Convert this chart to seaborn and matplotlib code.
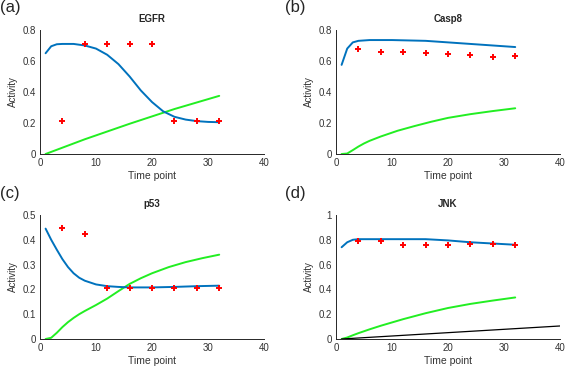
import numpy as np
import pandas as pd
import matplotlib
matplotlib.use('Agg')
import matplotlib.pyplot as plt
import seaborn as sns

# Panel data
panels = ['EGFR', 'Casp8', 'p53', 'JNK']
letters = ['(a)', '(b)', '(c)', '(d)']
ylims = [(0, 0.8), (0, 0.8), (0, 0.5), (0, 1)]
yticks = [[0, 0.2, 0.4, 0.6, 0.8], [0, 0.2, 0.4, 0.6, 0.8],
          [0, 0.1, 0.2, 0.3, 0.4, 0.5], [0, 0.2, 0.4, 0.6, 0.8, 1]]

# measured points (red markers)
t_meas = [4, 8, 12, 16, 20, 24, 28, 32]
egfr_meas = [0.21, 0.71, 0.71, 0.71, 0.71, 0.21, 0.21, 0.21]
casp8_meas = [0.68, 0.66, 0.655, 0.65, 0.645, 0.64, 0.625, 0.633]
p53_meas = [0.447, 0.422, 0.206, 0.205, 0.206, 0.205, 0.205, 0.205]
jnk_meas = [0.79, 0.79, 0.76, 0.755, 0.755, 0.765, 0.77, 0.755]

# simulated trajectories (blue)
egfr_t = [1, 2, 3, 4, 6, 8, 10, 12, 14, 16, 18, 20, 22, 24, 26, 28, 30, 32]
egfr_sim = [0.65, 0.695, 0.708, 0.71, 0.71, 0.70, 0.68, 0.64, 0.58, 0.50,
            0.41, 0.335, 0.275, 0.24, 0.222, 0.212, 0.207, 0.205]
casp8_t = [1, 2, 3, 4, 6, 10, 16, 20, 24, 28, 32]
casp8_sim = [0.575, 0.68, 0.72, 0.73, 0.735, 0.735, 0.73, 0.72, 0.71, 0.70, 0.69]
p53_t = [1, 2, 3, 4, 5, 6, 7, 8, 10, 12, 14, 16, 20, 24, 28, 32]
p53_sim = [0.445, 0.40, 0.36, 0.322, 0.29, 0.265, 0.247, 0.235, 0.22, 0.213,
           0.21, 0.208, 0.208, 0.21, 0.213, 0.215]
jnk_t = [1, 2, 3, 4, 8, 12, 16, 20, 24, 28, 32]
jnk_sim = [0.74, 0.78, 0.80, 0.805, 0.805, 0.805, 0.805, 0.795, 0.78, 0.77, 0.76]

# green curves
egfr_gt = [1, 8, 16, 24, 32]
egfr_green = [0.0, 0.095, 0.195, 0.29, 0.375]
casp8_gt = [1, 2, 3, 4, 5, 6, 8, 11, 14, 17, 20, 24, 28, 32]
casp8_green = [0.0, 0.003, 0.025, 0.048, 0.068, 0.085, 0.113, 0.15, 0.18,
               0.208, 0.233, 0.257, 0.277, 0.295]
p53_gt = [1, 2, 3, 4, 5, 6, 7, 8, 10, 12, 14, 16, 18, 20, 23, 26, 29, 32]
p53_green = [0.0, 0.005, 0.025, 0.048, 0.068, 0.085, 0.1, 0.113, 0.137, 0.163,
             0.193, 0.222, 0.245, 0.265, 0.29, 0.31, 0.326, 0.34]
jnk_gt = [1, 2, 3, 4, 6, 8, 12, 16, 20, 24, 28, 32]
jnk_green = [0.0, 0.012, 0.03, 0.047, 0.078, 0.107, 0.16, 0.208, 0.25, 0.283,
             0.31, 0.335]

# black line (JNK only)
jnk_bt = [1, 40]
jnk_black = [0.0, 0.105]

meas = [egfr_meas, casp8_meas, p53_meas, jnk_meas]
sims = [(egfr_t, egfr_sim), (casp8_t, casp8_sim), (p53_t, p53_sim), (jnk_t, jnk_sim)]
greens = [(egfr_gt, egfr_green), (casp8_gt, casp8_green), (p53_gt, p53_green), (jnk_gt, jnk_green)]

sns.set_style('white')
plt.rcParams['font.family'] = ['Liberation Sans', 'DejaVu Sans']

fig = plt.figure(figsize=(5.65, 3.67), dpi=100)
positions = [(0.0708, 0.5804), (0.5947, 0.5804), (0.0708, 0.0763), (0.5947, 0.0763)]
label_pos = [(0.0, 1.0), (0.504, 1.0), (0.0, 0.493), (0.504, 0.493)]
w, h = 0.3965, 0.3379

for i, name in enumerate(panels):
    ax = fig.add_axes([positions[i][0], positions[i][1], w, h])
    gx, gy = greens[i]
    sns.lineplot(x=gx, y=gy, ax=ax, color='#22ee22', linewidth=1.4)
    if name == 'JNK':
        sns.lineplot(x=jnk_bt, y=jnk_black, ax=ax, color='black', linewidth=0.9)
    sx, sy = sims[i]
    sns.lineplot(x=sx, y=sy, ax=ax, color='#0072BD', linewidth=1.4)
    sns.scatterplot(x=t_meas, y=meas[i], ax=ax, color='red', marker='+',
                    s=16, linewidth=1.4, zorder=5)
    ax.set_xlim(0, 40)
    ax.set_ylim(*ylims[i])
    ax.set_xticks([0, 10, 20, 30, 40])
    ax.set_yticks(yticks[i])
    ax.set_yticklabels([f'{v:g}' for v in yticks[i]])
    ax.tick_params(direction='in', length=2.5, width=0.6, labelsize=7,
                   colors='#262626', pad=3, labelcolor='#333333')
    for s in ['top', 'right']:
        ax.spines[s].set_visible(False)
    for s in ['left', 'bottom']:
        ax.spines[s].set_color('#262626')
        ax.spines[s].set_linewidth(0.7)
    ax.set_xlabel('Time point', fontsize=7.5, color='#333333', labelpad=2)
    ax.set_ylabel('Activity', fontsize=7, color='#333333', labelpad=3)
    ax.set_title(name, fontsize=7, fontweight='bold', pad=6)
    fig.text(label_pos[i][0], label_pos[i][1], letters[i], fontsize=12,
             va='top', ha='left')

fig.savefig('out.png', dpi=100)
